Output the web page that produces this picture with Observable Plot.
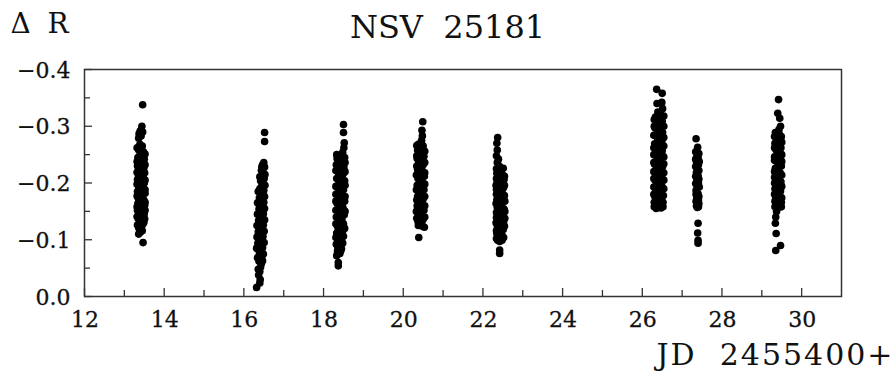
<!DOCTYPE html>
<html>
<head>
<meta charset="utf-8">
<script src="https://cdn.jsdelivr.net/npm/d3@7"></script>
<script src="https://cdn.jsdelivr.net/npm/@observablehq/plot@0.6"></script>
<style>
  html, body { margin: 0; padding: 0; background: #fff; }
  #chart { width: 893px; height: 374px; }
</style>
</head>
<body>
<div id="chart"></div>
<script>
// Text
const titleText = "NSV\u00a0\u00a025181";
const yLabelText = "\u0394\u00a0R";
const xLabelText = "JD\u00a0\u00a02455400+";

// Axis ticks
const xTicks = [12, 14, 16, 18, 20, 22, 24, 26, 28, 30];
const xTickLabels = ["12", "14", "16", "18", "20", "22", "24", "26", "28", "30"];
const xMinor = [13, 15, 17, 19, 21, 23, 25, 27, 29];
const yTicks = [-0.4, -0.3, -0.2, -0.1, 0];
const yTickLabels = ["\u22120.4", "\u22120.3", "\u22120.2", "\u22120.1", "0.0"];
const yMinor = [-0.35, -0.25, -0.15, -0.05];

// Observations per night: [JD - 2455400, delta R]
const night13 = [[13.46,-0.338],[13.44,-0.300],[13.40,-0.292],[13.46,-0.290],[13.37,-0.287],[13.42,-0.283],[13.36,-0.279],
  [13.39,-0.268],[13.45,-0.265],[13.42,-0.262],[13.36,-0.258],[13.48,-0.255],[13.40,-0.252],[13.44,-0.248],[13.34,-0.245],
  [13.50,-0.242],[13.38,-0.240],[13.46,-0.236],[13.42,-0.233],[13.33,-0.230],[13.49,-0.227],[13.37,-0.224],[13.44,-0.221],
  [13.51,-0.218],[13.35,-0.215],[13.41,-0.212],[13.47,-0.210],[13.33,-0.206],[13.39,-0.203],[13.50,-0.200],[13.44,-0.197],
  [13.36,-0.194],[13.48,-0.191],[13.41,-0.188],[13.33,-0.185],[13.52,-0.182],[13.38,-0.179],[13.45,-0.176],[13.35,-0.173],
  [13.49,-0.170],[13.42,-0.167],[13.34,-0.164],[13.51,-0.161],[13.39,-0.158],[13.46,-0.155],[13.33,-0.152],[13.43,-0.149],
  [13.50,-0.146],[13.37,-0.143],[13.47,-0.140],[13.35,-0.137],[13.42,-0.134],[13.49,-0.131],[13.38,-0.128],[13.44,-0.125],
  [13.36,-0.121],[13.42,-0.118],[13.40,-0.113],[13.36,-0.110],[13.47,-0.095],
  [13.32,-0.262],[13.52,-0.251],[13.32,-0.238],[13.52,-0.232],[13.40,-0.229],[13.32,-0.219],[13.46,-0.214],[13.52,-0.205],
  [13.32,-0.198],[13.42,-0.192],[13.52,-0.188],[13.32,-0.177],[13.47,-0.183],[13.40,-0.171],[13.52,-0.166],[13.32,-0.158],
  [13.45,-0.161],[13.52,-0.152],[13.40,-0.140],[13.32,-0.141],[13.51,-0.137],[13.33,-0.126],[13.47,-0.128],[13.39,-0.119],
  [13.45,-0.116]];
const night16 = [[16.52,-0.289],[16.52,-0.273],
  [16.50,-0.236],[16.47,-0.232],[16.52,-0.228],[16.44,-0.222],[16.49,-0.218],[16.46,-0.212],[16.51,-0.208],[16.42,-0.204],
  [16.48,-0.200],[16.45,-0.195],[16.40,-0.190],[16.50,-0.187],[16.43,-0.182],[16.47,-0.178],[16.39,-0.174],[16.45,-0.170],
  [16.50,-0.166],[16.41,-0.162],[16.47,-0.158],[16.38,-0.154],[16.44,-0.150],[16.49,-0.146],[16.40,-0.142],[16.46,-0.138],
  [16.37,-0.134],[16.43,-0.130],[16.49,-0.126],[16.39,-0.122],[16.45,-0.118],[16.36,-0.114],[16.42,-0.110],[16.48,-0.106],
  [16.38,-0.102],[16.44,-0.098],[16.35,-0.094],[16.41,-0.090],[16.47,-0.086],[16.37,-0.082],[16.43,-0.078],[16.39,-0.074],
  [16.45,-0.070],[16.41,-0.066],[16.38,-0.062],[16.44,-0.058],[16.36,-0.048],[16.40,-0.044],[16.41,-0.030],[16.40,-0.024],
  [16.32,-0.016],
  [16.45,-0.228],[16.53,-0.215],[16.40,-0.211],[16.53,-0.196],[16.36,-0.185],[16.52,-0.176],[16.34,-0.165],[16.52,-0.155],
  [16.34,-0.145],[16.52,-0.135],[16.33,-0.125],[16.51,-0.115],[16.33,-0.105],[16.51,-0.095],[16.32,-0.085],[16.49,-0.075],
  [16.34,-0.068],[16.47,-0.063],[16.42,-0.052],[16.37,-0.038]];
const night18 = [[18.50,-0.303],[18.50,-0.289],[18.52,-0.271],[18.51,-0.262],[18.33,-0.250],[18.48,-0.254],
  [18.42,-0.248],[18.53,-0.245],[18.37,-0.240],[18.47,-0.236],[18.32,-0.232],[18.51,-0.228],[18.41,-0.224],[18.36,-0.220],
  [18.49,-0.216],[18.44,-0.212],[18.33,-0.208],[18.53,-0.204],[18.39,-0.200],[18.46,-0.196],[18.35,-0.192],[18.50,-0.188],
  [18.42,-0.184],[18.31,-0.180],[18.47,-0.176],[18.38,-0.172],[18.53,-0.168],[18.34,-0.164],[18.44,-0.160],[18.49,-0.156],
  [18.36,-0.152],[18.41,-0.148],[18.52,-0.144],[18.32,-0.140],[18.46,-0.136],[18.39,-0.132],[18.50,-0.128],[18.35,-0.124],
  [18.43,-0.120],[18.48,-0.116],[18.33,-0.112],[18.40,-0.108],[18.46,-0.104],[18.36,-0.100],[18.43,-0.096],[18.32,-0.092],
  [18.39,-0.088],[18.45,-0.084],[18.35,-0.080],[18.41,-0.076],[18.37,-0.060],[18.37,-0.054],
  [18.45,-0.250],[18.34,-0.243],[18.54,-0.236],[18.43,-0.230],[18.31,-0.222],[18.54,-0.220],[18.38,-0.212],[18.54,-0.196],
  [18.31,-0.194],[18.45,-0.180],[18.54,-0.176],[18.31,-0.168],[18.47,-0.164],[18.54,-0.150],[18.31,-0.152],[18.44,-0.144],
  [18.53,-0.120],[18.31,-0.128],[18.37,-0.116],[18.50,-0.106],[18.31,-0.104],[18.48,-0.094],[18.36,-0.086],[18.43,-0.080],
  [18.33,-0.072]];
const night20 = [[20.49,-0.308],[20.47,-0.293],[20.48,-0.283],[20.46,-0.275],
  [20.38,-0.268],[20.50,-0.265],[20.43,-0.262],[20.36,-0.258],[20.47,-0.254],[20.40,-0.250],[20.52,-0.247],[20.35,-0.243],
  [20.45,-0.240],[20.39,-0.236],[20.50,-0.232],[20.42,-0.228],[20.36,-0.224],[20.48,-0.220],[20.44,-0.216],[20.53,-0.212],
  [20.37,-0.208],[20.41,-0.204],[20.49,-0.200],[20.35,-0.196],[20.45,-0.192],[20.52,-0.188],[20.39,-0.184],[20.43,-0.180],
  [20.36,-0.176],[20.50,-0.172],[20.41,-0.168],[20.47,-0.164],[20.35,-0.160],[20.44,-0.156],[20.52,-0.152],[20.38,-0.148],
  [20.46,-0.144],[20.41,-0.140],[20.50,-0.136],[20.37,-0.132],[20.44,-0.128],[20.48,-0.124],[20.53,-0.122],[20.38,-0.125],
  [20.39,-0.104],
  [20.34,-0.266],[20.46,-0.268],[20.54,-0.256],[20.34,-0.248],[20.48,-0.244],[20.54,-0.236],[20.34,-0.230],[20.46,-0.226],
  [20.54,-0.218],[20.33,-0.214],[20.47,-0.208],[20.54,-0.198],[20.33,-0.188],[20.48,-0.186],[20.54,-0.176],[20.34,-0.170],
  [20.46,-0.174],[20.54,-0.160],[20.33,-0.150],[20.49,-0.155],[20.54,-0.140],[20.34,-0.138],[20.47,-0.132],[20.42,-0.127]];
const night22 = [[22.37,-0.280],[22.35,-0.270],[22.36,-0.258],[22.34,-0.248],[22.39,-0.242],[22.36,-0.236],[22.41,-0.230],
  [22.51,-0.226],[22.38,-0.224],
  [22.45,-0.220],[22.35,-0.217],[22.50,-0.214],[22.40,-0.210],[22.53,-0.206],[22.36,-0.203],[22.46,-0.200],[22.42,-0.196],
  [22.52,-0.192],[22.34,-0.189],[22.48,-0.186],[22.39,-0.182],[22.54,-0.178],[22.44,-0.175],[22.35,-0.171],[22.50,-0.168],
  [22.41,-0.164],[22.47,-0.160],[22.36,-0.157],[22.53,-0.154],[22.43,-0.150],[22.38,-0.146],[22.49,-0.143],[22.34,-0.139],
  [22.45,-0.136],[22.52,-0.132],[22.40,-0.129],[22.36,-0.125],[22.47,-0.122],[22.51,-0.118],[22.42,-0.115],[22.35,-0.111],
  [22.48,-0.108],[22.39,-0.105],[22.45,-0.102],[22.37,-0.099],[22.42,-0.082],[22.42,-0.076],
  [22.34,-0.225],[22.54,-0.212],[22.34,-0.208],[22.44,-0.207],[22.54,-0.196],[22.33,-0.196],[22.46,-0.189],[22.34,-0.180],
  [22.55,-0.168],[22.45,-0.166],[22.33,-0.164],[22.55,-0.150],[22.34,-0.148],[22.47,-0.150],[22.55,-0.138],[22.33,-0.130],
  [22.44,-0.126],[22.54,-0.124],[22.34,-0.116],[22.52,-0.104],[22.34,-0.102],[22.42,-0.097],[22.48,-0.099]];
const night26 = [[26.36,-0.365],[26.50,-0.358],[26.49,-0.342],[26.37,-0.340],[26.51,-0.331],[26.39,-0.325],[26.46,-0.320],
  [26.33,-0.316],[26.43,-0.313],[26.50,-0.309],[26.37,-0.305],[26.46,-0.301],[26.32,-0.297],[26.41,-0.293],[26.51,-0.289],
  [26.35,-0.285],[26.45,-0.281],[26.39,-0.277],[26.49,-0.273],[26.31,-0.269],[26.43,-0.265],[26.36,-0.261],[26.50,-0.257],
  [26.40,-0.253],[26.33,-0.249],[26.47,-0.245],[26.38,-0.241],[26.44,-0.237],[26.31,-0.233],[26.51,-0.229],[26.41,-0.225],
  [26.35,-0.221],[26.46,-0.217],[26.39,-0.213],[26.49,-0.209],[26.32,-0.205],[26.43,-0.201],[26.37,-0.197],[26.50,-0.193],
  [26.34,-0.189],[26.45,-0.185],[26.40,-0.181],[26.31,-0.177],[26.48,-0.173],[26.36,-0.169],[26.44,-0.165],[26.33,-0.161],
  [26.40,-0.158],[26.47,-0.156],[26.35,-0.155],
  [26.30,-0.312],[26.54,-0.318],[26.30,-0.300],[26.54,-0.300],[26.29,-0.284],[26.54,-0.280],[26.29,-0.262],[26.54,-0.265],
  [26.29,-0.250],[26.54,-0.246],[26.29,-0.236],[26.54,-0.234],[26.29,-0.220],[26.54,-0.218],[26.29,-0.208],[26.54,-0.205],
  [26.29,-0.193],[26.54,-0.190],[26.29,-0.180],[26.53,-0.178],[26.30,-0.166],[26.52,-0.166],[26.30,-0.158],[26.52,-0.158],
  [26.42,-0.172],[26.38,-0.180],[26.47,-0.195],[26.42,-0.212],[26.36,-0.228],[26.47,-0.262],[26.42,-0.282],[26.40,-0.303]];
const night27 = [[27.35,-0.278],[27.39,-0.263],[27.37,-0.251],[27.40,-0.245],[27.36,-0.238],[27.41,-0.232],[27.38,-0.226],
  [27.36,-0.219],[27.40,-0.213],[27.37,-0.206],[27.41,-0.200],[27.38,-0.194],[27.35,-0.187],[27.40,-0.181],[27.37,-0.175],
  [27.41,-0.170],[27.39,-0.163],[27.41,-0.158],[27.38,-0.157],[27.40,-0.129],[27.39,-0.112],[27.40,-0.099],[27.40,-0.094],
  [27.34,-0.255],[27.42,-0.252],[27.34,-0.242],[27.43,-0.238],[27.34,-0.229],[27.42,-0.222],[27.34,-0.212],[27.42,-0.207],
  [27.34,-0.199],[27.43,-0.193],[27.35,-0.180],[27.42,-0.176],[27.35,-0.168],[27.42,-0.164],[27.36,-0.160]];
const night29 = [[29.42,-0.347],[29.40,-0.323],[29.45,-0.314],[29.47,-0.300],[29.43,-0.294],
  [29.34,-0.289],[29.44,-0.286],[29.49,-0.282],[29.38,-0.278],[29.46,-0.274],[29.33,-0.270],[29.42,-0.266],[29.48,-0.262],
  [29.36,-0.258],[29.45,-0.254],[29.40,-0.250],[29.32,-0.246],[29.47,-0.242],[29.37,-0.238],[29.43,-0.234],[29.49,-0.230],
  [29.34,-0.226],[29.41,-0.222],[29.46,-0.218],[29.38,-0.214],[29.32,-0.210],[29.44,-0.206],[29.48,-0.202],[29.36,-0.198],
  [29.42,-0.194],[29.33,-0.190],[29.47,-0.186],[29.39,-0.182],[29.45,-0.178],[29.35,-0.174],[29.43,-0.170],[29.49,-0.166],
  [29.37,-0.162],[29.44,-0.158],[29.40,-0.157],
  [29.35,-0.140],[29.34,-0.129],[29.36,-0.111],[29.47,-0.090],[29.35,-0.081],
  [29.32,-0.282],[29.50,-0.272],[29.32,-0.262],[29.50,-0.250],[29.32,-0.240],[29.50,-0.238],[29.32,-0.220],[29.50,-0.214],
  [29.32,-0.200],[29.50,-0.194],[29.32,-0.180],[29.50,-0.174],[29.33,-0.168],[29.49,-0.158],[29.33,-0.158],[29.41,-0.172],
  [29.40,-0.206],[29.40,-0.238],[29.39,-0.270],[29.37,-0.150]];

const nights = [night13, night16, night18, night20, night22, night26, night27, night29];
const points = nights.flat().map(([jd, dR]) => ({jd, dR}));

const axisColor = "#333";
const chart = Plot.plot({
  width: 893,
  height: 374,
  marginLeft: 84,
  marginRight: 52,
  marginTop: 69,
  marginBottom: 78,
  style: {fontFamily: "'DejaVu Serif', serif", background: "#fff", color: "#111", overflow: "visible"},
  x: {domain: [12, 31], axis: null},
  y: {domain: [0, -0.4], axis: null},
  marks: [
    Plot.frame({stroke: axisColor, strokeWidth: 1.5}),
    Plot.tickX(xTicks, {x: d => d, insetTop: 227 - 8, stroke: axisColor, strokeWidth: 1.3}),
    Plot.tickX(xMinor, {x: d => d, insetTop: 227 - 6, stroke: axisColor, strokeWidth: 1.3}),
    Plot.tickY(yTicks, {y: d => d, insetRight: 757 - 8, stroke: axisColor, strokeWidth: 1.3}),
    Plot.tickY(yMinor, {y: d => d, insetRight: 757 - 6, stroke: axisColor, strokeWidth: 1.3}),
    Plot.text(xTicks, {x: d => d, text: (d, i) => xTickLabels[i], frameAnchor: "bottom", dy: 14.5, dx: 0.5,
      lineAnchor: "top", textAnchor: "middle", fontSize: 22, fill: "#111", stroke: "#111", strokeWidth: 0.3}),
    Plot.text(yTicks, {y: d => d, text: (d, i) => yTickLabels[i], frameAnchor: "left", dx: -14, dy: 1,
      lineAnchor: "middle", textAnchor: "end", fontSize: 22, fill: "#111", stroke: "#111", strokeWidth: 0.3}),
    Plot.dot(points, {x: "jd", y: "dR", r: 3.8, fill: "#000", stroke: null}),
    Plot.text([titleText], {text: d => d, frameAnchor: "top-left", dx: 363, dy: -54, lineAnchor: "top",
      textAnchor: "middle", fontSize: 32, fill: "#111"}),
    Plot.text([yLabelText], {text: d => d, frameAnchor: "top-left", dx: -74, dy: -56, lineAnchor: "top",
      textAnchor: "start", fontSize: 28, fill: "#111"}),
    Plot.text([xLabelText], {text: d => d, frameAnchor: "bottom-right", dx: 53, dy: 47, lineAnchor: "top",
      textAnchor: "end", fontSize: 30, fill: "#111"})
  ]
});

const allText = d3.select(chart).selectAll("text");
allText.filter(function () { return this.textContent === xLabelText; }).attr("letter-spacing", 2);
allText.filter(function () { return this.textContent === yLabelText; }).attr("letter-spacing", 4);

document.getElementById("chart").appendChild(chart);
</script>
</body>
</html>
